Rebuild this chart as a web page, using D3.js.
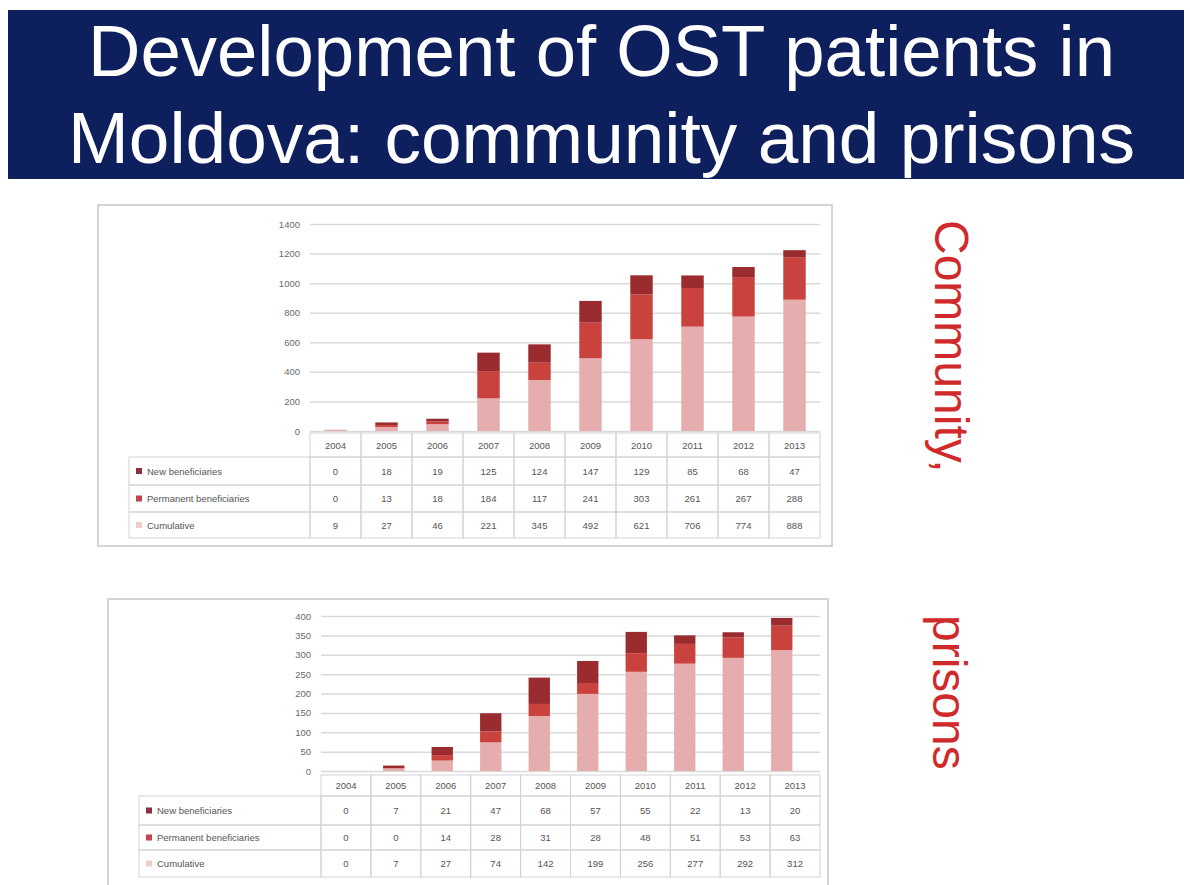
<!DOCTYPE html>
<html>
<head>
<meta charset="utf-8">
<script src="https://cdn.jsdelivr.net/npm/d3@7"></script>
<style>
  body { margin: 0; background: #fff; }
  svg { display: block; font-family: "Liberation Sans", Arial, sans-serif; }
</style>
</head>
<body>
<svg id="slide" width="1190" height="885"></svg>
<script>
// years shown in both tables
var years = ["2004", "2005", "2006", "2007", "2008", "2009", "2010", "2011", "2012", "2013"];
var seriesNames = ["New beneficiaries", "Permanent beneficiaries", "Cumulative"];

// community
var commNew  = [0, 18, 19, 125, 124, 147, 129, 85, 68, 47];
var commPerm = [0, 13, 18, 184, 117, 241, 303, 261, 267, 288];
var commCum  = [9, 27, 46, 221, 345, 492, 621, 706, 774, 888];
var commTicks = [0, 200, 400, 600, 800, 1000, 1200, 1400];

// prisons
var prisNew  = [0, 7, 21, 47, 68, 57, 55, 22, 13, 20];
var prisPerm = [0, 0, 14, 28, 31, 28, 48, 51, 53, 63];
var prisCum  = [0, 7, 27, 74, 142, 199, 256, 277, 292, 312];
var prisTicks = [0, 50, 100, 150, 200, 250, 300, 350, 400];

var colors = { New: "#9a2c30", Perm: "#c9423d", Cum: "#e6adaf" };
var swatch = { New: "#8c2f3e", Perm: "#c2444d", Cum: "#f1cccc" };

var svg = d3.select("#slide");

// title banner
svg.append("rect")
  .attr("x", 8).attr("y", 10).attr("width", 1176).attr("height", 169)
  .attr("fill", "#0e1f5e");
svg.append("text")
  .attr("x", 88).attr("y", 76)
  .attr("textLength", 1027).attr("lengthAdjust", "spacingAndGlyphs")
  .attr("fill", "#fff").attr("font-size", 73)
  .text("Development of OST patients in");
svg.append("text")
  .attr("x", 68).attr("y", 163)
  .attr("textLength", 1067).attr("lengthAdjust", "spacingAndGlyphs")
  .attr("fill", "#fff").attr("font-size", 73)
  .text("Moldova: community and prisons");

function drawPanel(p) {
  var g = svg.append("g");

  // frame
  g.append("rect")
    .attr("x", p.box[0]).attr("y", p.box[1]).attr("width", p.box[2]).attr("height", p.box[3])
    .attr("fill", "#fff").attr("stroke", "#d4d4d4").attr("stroke-width", 2);

  var y = d3.scaleLinear().domain([0, p.max]).range([p.y0, p.y1]);
  var xTable = d3.scaleBand().domain(years).range([p.left, p.right]);
  var xBar = d3.scaleBand().domain(years).range([p.left, p.barRight]).paddingInner(0.56).paddingOuter(0.28);

  // gridlines + labels
  var axis = g.append("g")
    .attr("transform", "translate(" + p.left + ",0)")
    .call(d3.axisLeft(y).tickValues(p.ticks).tickFormat(d3.format("d"))
      .tickSize(-(p.right - p.left)).tickPadding(10));
  axis.select(".domain").remove();
  axis.selectAll(".tick line").attr("stroke", "#d9d9d9").attr("stroke-width", 1.5);
  axis.selectAll(".tick text").attr("fill", "#6a6a6a").attr("font-size", 9.5)
    .attr("font-family", "Liberation Sans, Arial, sans-serif");

  // stacked bars, cumulative at the bottom
  var rows = years.map(function (yr, i) {
    return { year: yr, Cum: p.cum[i], Perm: p.perm[i], New: p.nw[i] };
  });
  var stack = d3.stack().keys(["Cum", "Perm", "New"])(rows);
  g.selectAll("g.layer").data(stack).enter().append("g")
    .attr("fill", function (d) { return colors[d.key]; })
    .selectAll("rect").data(function (d) { return d; }).enter().append("rect")
      .attr("x", function (d) { return xBar(d.data.year); })
      .attr("width", xBar.bandwidth())
      .attr("y", function (d) { return y(d[1]); })
      .attr("height", function (d) { return y(d[0]) - y(d[1]); });

  // data table
  var rowH = p.rowH, hdrTop = p.hdrTop, hdrH = p.hdrH;
  var tb = g.append("g").attr("font-size", 9.5).attr("fill", "#555");
  years.forEach(function (yr) {
    tb.append("rect")
      .attr("x", xTable(yr)).attr("y", hdrTop).attr("width", xTable.bandwidth()).attr("height", hdrH)
      .attr("fill", "none").attr("stroke", "#d3d3d3");
    tb.append("text")
      .attr("x", xTable(yr) + xTable.bandwidth() / 2).attr("y", hdrTop + hdrH / 2 + 3.5)
      .attr("text-anchor", "middle").text(yr);
  });
  var vals = [p.nw, p.perm, p.cum];
  var keys = ["New", "Perm", "Cum"];
  vals.forEach(function (series, r) {
    var ry = hdrTop + hdrH + d3.sum(rowH.slice(0, r));
    var h = rowH[r];
    tb.append("rect")
      .attr("x", p.tableLeft).attr("y", ry).attr("width", p.left - p.tableLeft).attr("height", h)
      .attr("fill", "none").attr("stroke", "#d3d3d3");
    tb.append("rect")
      .attr("x", p.tableLeft + 7).attr("y", ry + h / 2 - 3).attr("width", 6).attr("height", 6)
      .attr("fill", swatch[keys[r]]);
    tb.append("text")
      .attr("x", p.tableLeft + 18).attr("y", ry + h / 2 + 3.5)
      .text(seriesNames[r]);
    series.forEach(function (v, i) {
      tb.append("rect")
        .attr("x", xTable(years[i])).attr("y", ry).attr("width", xTable.bandwidth()).attr("height", h)
        .attr("fill", "none").attr("stroke", "#d3d3d3");
      tb.append("text")
        .attr("x", xTable(years[i]) + xTable.bandwidth() / 2).attr("y", ry + h / 2 + 3.5)
        .attr("text-anchor", "middle").text(v);
    });
  });

  // side label, rotated
  svg.append("text")
    .attr("transform", "translate(" + p.labelX + "," + p.labelY + ") rotate(90)")
    .attr("fill", "#d02a2c").attr("font-size", 48)
    .text(p.label);
}

drawPanel({
  box: [98, 205, 734, 341],
  max: 1400, ticks: commTicks, y0: 431, y1: 224,
  left: 310, right: 820, barRight: 820,
  nw: commNew, perm: commPerm, cum: commCum,
  hdrTop: 433, hdrH: 24, rowH: [28, 27, 26], tableLeft: 129,
  label: "Community,", labelX: 935, labelY: 220
});

drawPanel({
  box: [108, 599, 720, 300],
  max: 400, ticks: prisTicks, y0: 771, y1: 616,
  left: 321, right: 820, barRight: 806,
  nw: prisNew, perm: prisPerm, cum: prisCum,
  hdrTop: 775, hdrH: 21, rowH: [29, 25, 27], tableLeft: 139,
  label: "prisons", labelX: 933, labelY: 615
});
</script>
</body>
</html>
